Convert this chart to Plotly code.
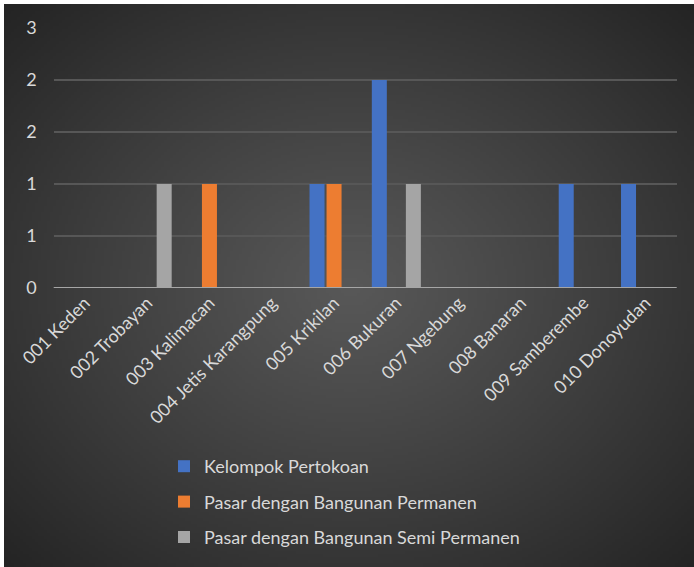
import struct, zlib, base64
import numpy as np
import plotly.graph_objects as go

categories = ["001 Keden", "002 Trobayan", "003 Kalimacan", "004 Jetis Karangpung",
              "005 Krikilan", "006 Bukuran", "007 Ngebung", "008 Banaran",
              "009 Samberembe", "010 Donoyudan"]
kelompok_pertokoan = [0, 0, 0, 0, 1, 2, 0, 0, 1, 1]
pasar_permanen = [0, 0, 1, 0, 1, 0, 0, 0, 0, 0]
pasar_semi_permanen = [0, 1, 0, 0, 0, 1, 0, 0, 0, 0]
series_names = ["Kelompok Pertokoan", "Pasar dengan Bangunan Permanen",
                "Pasar dengan Bangunan Semi Permanen"]
y_tick_values = [0, 0.5, 1, 1.5, 2, 2.5]
y_tick_labels = ["0", "1", "1", "2", "2", "3"]

W, H = 694, 567

# radial gradient background image (PNG built by hand)
def make_png(arr):
    h, w, _ = arr.shape
    raw = b"".join(b"\x00" + arr[i].tobytes() for i in range(h))
    def chunk(t, d):
        c = struct.pack(">I", len(d)) + t + d
        return c + struct.pack(">I", zlib.crc32(t + d) & 0xffffffff)
    png = b"\x89PNG\r\n\x1a\n"
    png += chunk(b"IHDR", struct.pack(">IIBBBBB", w, h, 8, 2, 0, 0, 0))
    png += chunk(b"IDAT", zlib.compress(raw, 9))
    png += chunk(b"IEND", b"")
    return "data:image/png;base64," + base64.b64encode(png).decode()

gw, gh = 230, 188
yy, xx = np.mgrid[0:gh, 0:gw]
cx, cy = gw * 0.5, gh * 0.5
r = np.sqrt(((xx - cx) / (gw * 0.5)) ** 2 + ((yy - cy) / (gh * 0.5)) ** 2) / np.sqrt(2)
r = np.clip(r, 0, 1)
val = 88 - (88 - 36) * r ** 1.1
img = np.repeat(val[:, :, None], 3, axis=2).astype(np.uint8)
bg_src = make_png(img)

colors = ["#4472C4", "#ED7D31", "#A5A5A5"]
fig = go.Figure()
for name, vals, col in zip(series_names,
                           [kelompok_pertokoan, pasar_permanen, pasar_semi_permanen],
                           colors):
    fig.add_trace(go.Bar(x=categories, y=vals, name=name, legendgroup=name,
                         marker=dict(color=col, line=dict(width=0))))

x0, x1 = 53.7, 676.7
y0, y1 = 288, 28
fig.update_layout(
    width=W, height=H,
    margin=dict(l=0, r=0, t=0, b=0),
    paper_bgcolor="white",
    plot_bgcolor="rgba(0,0,0,0)",
    barmode="group", bargap=0.18, bargroupgap=0.118,
    font=dict(family="Lato, 'Open Sans', sans-serif", color="#D9D9D9", size=18),
    images=[dict(source=bg_src, xref="paper", yref="paper",
                 x=4 / W, y=1 - 4 / H, sizex=(W - 4) / W, sizey=(H - 4) / H,
                 xanchor="left", yanchor="top", sizing="stretch", layer="below")],
    xaxis=dict(domain=[x0 / W, x1 / W], tickangle=-45, showgrid=False,
               showline=False, ticks="", tickfont=dict(size=18, color="#D9D9D9"),
               automargin=False),
    yaxis=dict(domain=[1 - y0 / H, 1 - y1 / H], range=[0, 2.5],
               tickvals=y_tick_values, ticktext=y_tick_labels,
               gridcolor="#575757", gridwidth=1.5, zeroline=False, showline=False,
               ticks="", ticklabelstandoff=16,
               tickfont=dict(size=18, color="#D9D9D9"), automargin=False),
    showlegend=True,
    legend=dict(x=164 / W, y=1 - 448 / H, xanchor="left", yanchor="top",
                orientation="v", bgcolor="rgba(0,0,0,0)", tracegroupgap=9,
                font=dict(size=18, color="#D9D9D9")),
    shapes=[dict(type="line", xref="paper", yref="y", x0=x0 / W, x1=x1 / W,
                 y0=0, y1=0, line=dict(color="#A6A6A6", width=2))],
)
fig.write_html("out.html", config={"displayModeBar": False},
               post_script="document.body.style.margin='0';document.body.style.padding='0';")
